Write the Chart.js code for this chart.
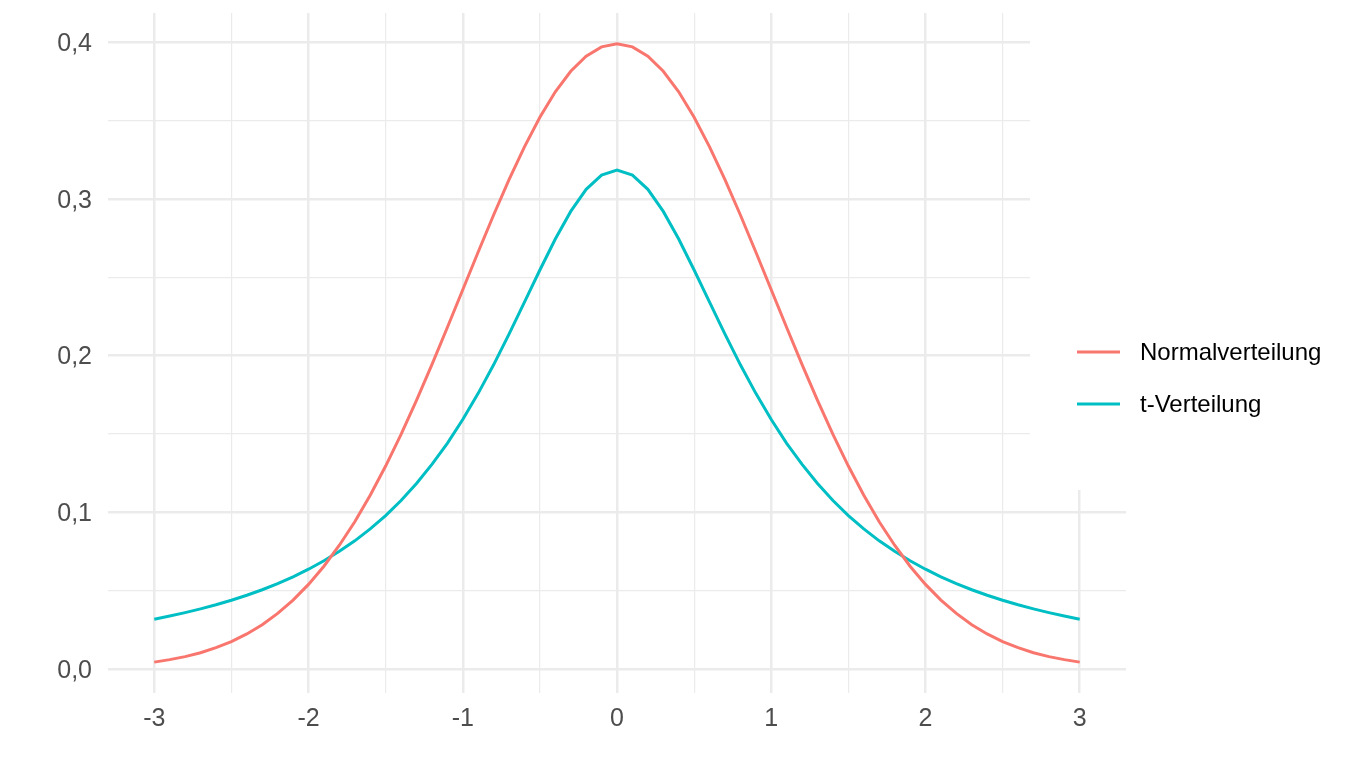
<!DOCTYPE html>
<html>
<head>
<meta charset="utf-8">
<script src="https://cdn.jsdelivr.net/npm/chart.js@4/dist/chart.umd.min.js"></script>
<style>
  body { margin: 0; background: #fff; }
  #box { width: 1360px; height: 784px; position: relative; }
</style>
</head>
<body>
<div id="box"><canvas id="chart"></canvas></div>
<script>
// x-Werte (Schritt 0,1)
const xWerte = [-3.0, -2.9, -2.8, -2.7, -2.6, -2.5, -2.4, -2.3, -2.2, -2.1,
  -2.0, -1.9, -1.8, -1.7, -1.6, -1.5, -1.4, -1.3, -1.2, -1.1,
  -1.0, -0.9, -0.8, -0.7, -0.6, -0.5, -0.4, -0.3, -0.2, -0.1,
  0.0, 0.1, 0.2, 0.3, 0.4, 0.5, 0.6, 0.7, 0.8, 0.9,
  1.0, 1.1, 1.2, 1.3, 1.4, 1.5, 1.6, 1.7, 1.8, 1.9,
  2.0, 2.1, 2.2, 2.3, 2.4, 2.5, 2.6, 2.7, 2.8, 2.9, 3.0]

const normalverteilung = [0.0044, 0.0060, 0.0079, 0.0104, 0.0136, 0.0175, 0.0224, 0.0283, 0.0355, 0.0440,
  0.0540, 0.0656, 0.0790, 0.0940, 0.1109, 0.1295, 0.1497, 0.1714, 0.1942, 0.2179,
  0.2420, 0.2661, 0.2897, 0.3123, 0.3332, 0.3521, 0.3683, 0.3814, 0.3910, 0.3970,
  0.3989, 0.3970, 0.3910, 0.3814, 0.3683, 0.3521, 0.3332, 0.3123, 0.2897, 0.2661,
  0.2420, 0.2179, 0.1942, 0.1714, 0.1497, 0.1295, 0.1109, 0.0940, 0.0790, 0.0656,
  0.0540, 0.0440, 0.0355, 0.0283, 0.0224, 0.0175, 0.0136, 0.0104, 0.0079, 0.0060, 0.0044]

const tVerteilung = [0.0318, 0.0338, 0.0360, 0.0384, 0.0410, 0.0439, 0.0471, 0.0506, 0.0545, 0.0588,
  0.0637, 0.0691, 0.0751, 0.0818, 0.0894, 0.0979, 0.1075, 0.1184, 0.1306, 0.1440,
  0.1592, 0.1759, 0.1941, 0.2137, 0.2341, 0.2546, 0.2744, 0.2920, 0.3061, 0.3152,
  0.3183, 0.3152, 0.3061, 0.2920, 0.2744, 0.2546, 0.2341, 0.2137, 0.1941, 0.1759,
  0.1592, 0.1440, 0.1306, 0.1184, 0.1075, 0.0979, 0.0894, 0.0818, 0.0751, 0.0691,
  0.0637, 0.0588, 0.0545, 0.0506, 0.0471, 0.0439, 0.0410, 0.0384, 0.0360, 0.0338, 0.0318]

const xTicks = [-3, -2.5, -2, -1.5, -1, -0.5, 0, 0.5, 1, 1.5, 2, 2.5, 3]
const yTicks = [0, 0.05, 0.1, 0.15, 0.2, 0.25, 0.3, 0.35, 0.4]

const serienNamen = ['Normalverteilung', 't-Verteilung']
const farben = ['#F8766D', '#00BFC4']

const schrift = '"Liberation Sans", Arial, sans-serif'

function punkte(werte) {
  return xWerte.map((x, i) => ({ x: x, y: werte[i] }))
}

function istMajorX(v) { return Math.abs(v - Math.round(v)) < 1e-6 }
function istMajorY(v) { return Math.abs(v * 10 - Math.round(v * 10)) < 1e-6 }

// weisser Kasten hinter der Legende (deckt Gitter ab) + Legende
const legendePlugin = {
  id: 'legende',
  beforeDatasetsDraw(chart) {
    const ctx = chart.ctx
    ctx.save()
    ctx.fillStyle = '#ffffff'
    ctx.fillRect(1030, 0, 330, 490)
    ctx.restore()
  },
  afterDraw(chart) {
    const ctx = chart.ctx
    ctx.save()
    serienNamen.forEach((name, i) => {
      const y = 352 + i * 52
      ctx.strokeStyle = farben[i]
      ctx.lineWidth = 3
      ctx.beginPath()
      ctx.moveTo(1077, y)
      ctx.lineTo(1120, y)
      ctx.stroke()
      ctx.fillStyle = '#000000'
      ctx.font = '24px ' + schrift
      ctx.textBaseline = 'middle'
      ctx.fillText(name, 1140, y + 1)
    })
    ctx.restore()
  }
}

new Chart(document.getElementById('chart'), {
  type: 'line',
  data: {
    datasets: [
      {
        label: serienNamen[0],
        data: punkte(normalverteilung),
        borderColor: farben[0],
        borderWidth: 3,
        pointRadius: 0,
        tension: 0,
        fill: false
      },
      {
        label: serienNamen[1],
        data: punkte(tVerteilung),
        borderColor: farben[1],
        borderWidth: 3,
        pointRadius: 0,
        tension: 0,
        fill: false
      }
    ]
  },
  options: {
    responsive: true,
    maintainAspectRatio: false,
    animation: false,
    devicePixelRatio: 1,
    layout: { padding: { top: 13, right: 234, left: 0, bottom: 0 } },
    plugins: { legend: { display: false }, tooltip: { enabled: false } },
    scales: {
      x: {
        type: 'linear',
        min: -3.3,
        max: 3.3,
        afterBuildTicks: (scale) => { scale.ticks = xTicks.map(v => ({ value: v })) },
        afterFit: (scale) => {
          scale.height = 91
          scale.paddingLeft = 0
          scale.paddingRight = 0
        },
        border: { display: false },
        grid: {
          drawTicks: false,
          color: '#EBEBEB',
          lineWidth: (c) => istMajorX(c.tick.value) ? 2.5 : 1.2
        },
        ticks: {
          padding: 11,
          maxRotation: 0,
          autoSkip: false,
          color: '#4D4D4D',
          font: { family: schrift, size: 25 },
          callback: (v) => istMajorX(v) ? String(Math.round(v)) : ''
        }
      },
      y: {
        min: -0.0153,
        max: 0.4186,
        afterBuildTicks: (scale) => { scale.ticks = yTicks.map(v => ({ value: v })) },
        afterFit: (scale) => {
          scale.width = 108
          scale.paddingTop = 0
          scale.paddingBottom = 0
        },
        border: { display: false },
        grid: {
          drawTicks: false,
          color: '#EBEBEB',
          lineWidth: (c) => istMajorY(c.tick.value) ? 2.5 : 1.2
        },
        ticks: {
          padding: 16,
          labelOffset: 2,
          autoSkip: false,
          color: '#4D4D4D',
          font: { family: schrift, size: 25 },
          callback: (v) => istMajorY(v) ? v.toFixed(1).replace('.', ',') : ''
        }
      }
    }
  },
  plugins: [legendePlugin]
})
</script>
</body>
</html>
